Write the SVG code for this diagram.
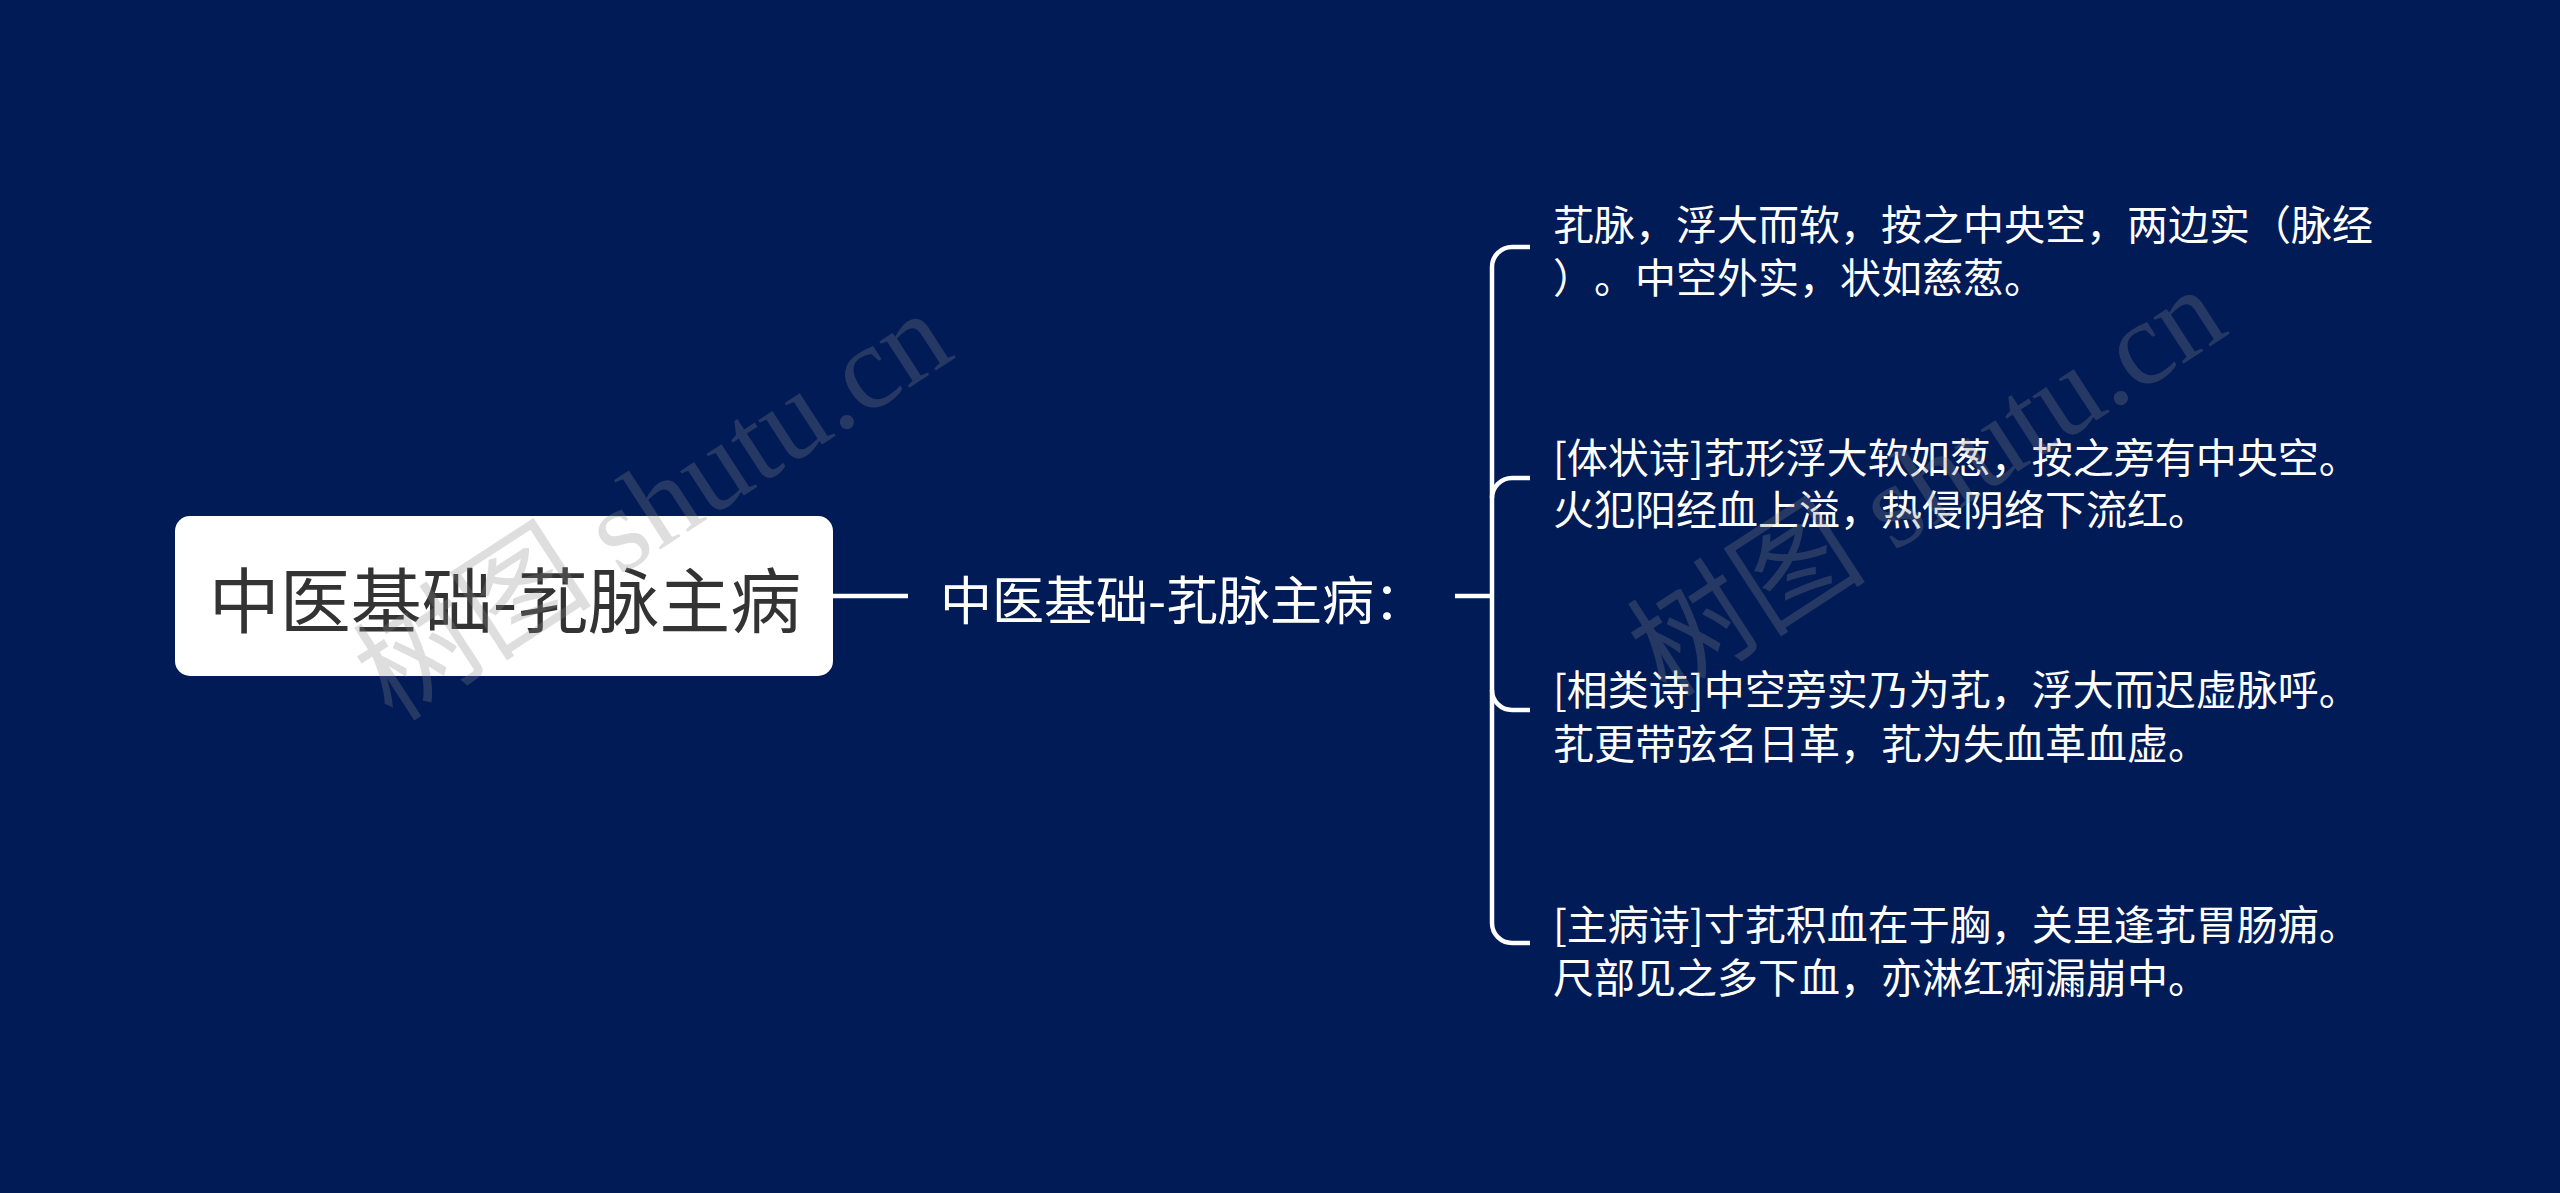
<svg xmlns="http://www.w3.org/2000/svg" width="2560" height="1193" viewBox="0 0 2560 1193">
<style>
.bg{fill:#011b56}
.cjk{font-family:"Noto Sans CJK SC","Noto Sans",sans-serif;text-spacing-trim:space-all}
.root-box{fill:#ffffff}
.root-text{font-size:71px;fill:#333333}
.mid-text{font-size:52px;fill:#ffffff}
.leaf{font-size:41px;fill:#ffffff}
.conn{fill:none;stroke:#ffffff;stroke-width:4.5;stroke-linecap:butt}
.wm{font-family:"Liberation Serif","Noto Sans CJK SC",serif;font-size:120px;fill:#8a8a8a;fill-opacity:0.28}
</style>
<rect class="bg" x="0" y="0" width="2560" height="1193"/>
<g id="connectors">
<path class="conn" d="M833,596 H908"/>
<path class="conn" d="M1455,596 H1492"/>
<path class="conn" d="M1530,247 H1512 A20,20 0 0 0 1492,267 V923 A20,20 0 0 0 1512,943 H1530"/>
<path class="conn" d="M1492,498 A20,20 0 0 1 1512,478 H1530"/>
<path class="conn" d="M1492,690 A20,20 0 0 0 1512,710 H1530"/>
</g>
<g id="root">
<rect class="root-box" x="175" y="516" width="658" height="160" rx="15" ry="15"/>
<text class="cjk root-text" x="505" y="596" text-anchor="middle" dominant-baseline="central">中医基础-芤脉主病</text>
</g>
<g id="mid">
<text class="cjk mid-text" x="940" y="597" dominant-baseline="central">中医基础-芤脉主病：</text>
</g>
<g id="leaf1">
<text class="cjk leaf" x="1553" y="222" dominant-baseline="central">芤脉，浮大而软，按之中央空，两边实（脉经</text>
<text class="cjk leaf" x="1553" y="275" dominant-baseline="central">）。中空外实，状如慈葱。</text>
</g>
<g id="leaf2">
<text class="cjk leaf" x="1553" y="455" dominant-baseline="central">[体状诗]芤形浮大软如葱，按之旁有中央空。</text>
<text class="cjk leaf" x="1553" y="507" dominant-baseline="central">火犯阳经血上溢，热侵阴络下流红。</text>
</g>
<g id="leaf3">
<text class="cjk leaf" x="1553" y="687" dominant-baseline="central">[相类诗]中空旁实乃为芤，浮大而迟虚脉呼。</text>
<text class="cjk leaf" x="1553" y="741" dominant-baseline="central">芤更带弦名日革，芤为失血革血虚。</text>
</g>
<g id="leaf4">
<text class="cjk leaf" x="1553" y="922" dominant-baseline="central">[主病诗]寸芤积血在于胸，关里逢芤胃肠痈。</text>
<text class="cjk leaf" x="1553" y="975" dominant-baseline="central">尺部见之多下血，亦淋红痢漏崩中。</text>
</g>
<g id="watermarks">
<text class="wm" x="653" y="506" text-anchor="middle" dominant-baseline="central" transform="rotate(-33 653 506)">树图 shutu.cn</text>
<text class="wm" x="1927" y="482" text-anchor="middle" dominant-baseline="central" transform="rotate(-33 1927 482)">树图 shutu.cn</text>
</g>
</svg>
